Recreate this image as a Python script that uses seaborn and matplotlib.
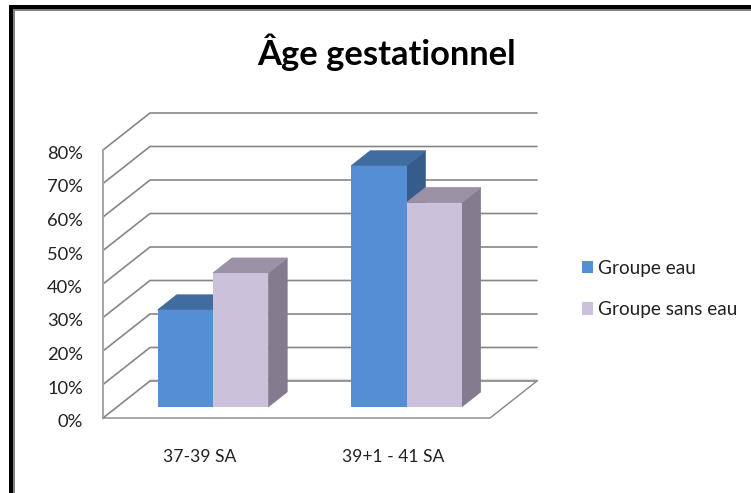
import matplotlib
matplotlib.use("Agg")
import matplotlib.pyplot as plt
import pandas as pd
import seaborn as sns
from matplotlib.lines import Line2D
from matplotlib.patches import Patch, Polygon, Rectangle
from matplotlib.transforms import IdentityTransform, ScaledTranslation

categories = ["37-39 SA", "39+1 - 41 SA"]
groups = ["Groupe eau", "Groupe sans eau"]
groupe_eau = [29, 72]
groupe_sans_eau = [40, 61]
y_ticks = [0, 10, 20, 30, 40, 50, 60, 70, 80]
y_labels = [f"{v}%" for v in y_ticks]
title = "Âge gestationnel"

face_colors = ["#558ED5", "#CCC1DA"]
top_colors = ["#406CA0", "#9B91A5"]
side_colors = ["#355C8B", "#837C8E"]
GRID = "#868686"

W, H = 751, 493
sns.set_theme(style="white")
plt.rcParams["font.family"] = ["Lato", "DejaVu Sans"]
fig = plt.figure(figsize=(W / 100, H / 100), dpi=100, facecolor="white")


def px_axes(left, right, top, bottom):
    return fig.add_axes([left / W, 1 - bottom / H, (right - left) / W, (bottom - top) / H])


# Front plane of the floor carries the axis labels; the bars sit deeper in the box.
ax = px_axes(103, 490, 150, 418)
ax.set_facecolor("none")
ax.set_xlim(-0.5, 1.5)
ax.set_ylim(0, 80)
ax.set_xticks([0, 1], categories)
ax.set_yticks(y_ticks, y_labels)
ax.tick_params(axis="x", length=0, pad=22, labelsize=12.6, colors="#222222")
ax.tick_params(axis="y", length=0, pad=14.5, labelsize=13.2, colors="#222222")
nudge = ScaledTranslation(0, -2.5 / 72 * 72 / 100, fig.dpi_scale_trans)
for lab in ax.get_yticklabels():
    lab.set_transform(lab.get_transform() + nudge)
for s in ax.spines.values():
    s.set_visible(False)

bar_ax = px_axes(116.25, 503.25, 139, 407)
df = pd.DataFrame({
    "Age": categories * 2,
    "Groupe": [groups[0]] * 2 + [groups[1]] * 2,
    "Value": groupe_eau + groupe_sans_eau,
})
sns.barplot(data=df, x="Age", y="Value", hue="Groupe", hue_order=groups,
            palette=face_colors, saturation=1, width=0.571, gap=0,
            legend=False, ax=bar_ax, linewidth=0)
bar_ax.set_xlim(-0.5, 1.5)
bar_ax.set_ylim(0, 80)
bar_ax.axis("off")
bar_ax.patch.set_alpha(0)

identity = IdentityTransform()
DEPTH = (47, 37)       # floor depth in pixels
BAR_DEPTH = (19, 15)   # bar depth in pixels

# Box walls
for v in y_ticks:
    x0, y0 = ax.transData.transform((-0.5, v))
    x1, _ = ax.transData.transform((1.5, v))
    xs = [x0, x0 + DEPTH[0], x1 + DEPTH[0]]
    ys = [y0, y0 + DEPTH[1], y0 + DEPTH[1]]
    if v == 0:
        ax.add_line(Line2D(xs[1:], [ys[1] + 1.5] * 2, color="#DDDDDD", lw=1.6,
                           transform=identity, zorder=0.5, clip_on=False))
    ax.add_line(Line2D(xs, ys, color=GRID, lw=1.2, transform=identity, zorder=1, clip_on=False))

x0, y0 = ax.transData.transform((-0.5, 0))
x1, _ = ax.transData.transform((1.5, 0))
_, ytop = ax.transData.transform((-0.5, 80))
ax.add_line(Line2D([x0, x0], [y0, ytop], color="#A6A6A6", lw=1.4, transform=identity, zorder=1, clip_on=False))
ax.add_line(Line2D([x0, x1, x1 + DEPTH[0]], [y0, y0, y0 + DEPTH[1]], color=GRID, lw=1.0,
                   transform=identity, zorder=1, clip_on=False))

# Bar depth faces, derived from the bars that seaborn drew
dx, dy = BAR_DEPTH
for i, container in enumerate(bar_ax.containers):
    for bar in container:
        bx, by = bar.get_x(), bar.get_y()
        bw, bh = bar.get_width(), bar.get_height()
        (xa, ya), (xb, yb) = bar_ax.transData.transform([(bx, by), (bx + bw, by + bh)])
        top = [(xa, yb), (xb, yb), (xb + dx, yb + dy), (xa + dx, yb + dy)]
        side = [(xb, ya), (xb, yb), (xb + dx, yb + dy), (xb + dx, ya + dy)]
        z = 2 + 2 * i
        bar_ax.add_patch(Polygon(side, closed=True, fc=side_colors[i], ec=side_colors[i], lw=0.4,
                                 transform=identity, zorder=z, clip_on=False))
        bar_ax.add_patch(Polygon(top, closed=True, fc=top_colors[i], ec=top_colors[i], lw=0.6,
                                 transform=identity, zorder=z, clip_on=False))
        bar.set_zorder(z + 1)
bar_ax.set_xlim(-0.5, 1.5)
bar_ax.set_ylim(0, 80)

# Title, legend
fig.text(386.5 / W, 1 - 52 / H, title, ha="center", va="center", fontsize=24.8,
         fontweight="bold", color="black")
handles = [Patch(fc=c, ec="none", label=g) for c, g in zip(face_colors, groups)]
fig.legend(handles=handles, loc="center left", bbox_to_anchor=(582 / W, 1 - 289 / H),
           frameon=False, fontsize=13.7, handlelength=0.58, handleheight=0.6,
           handletextpad=0.28, labelspacing=1.28, labelcolor="#222222", borderpad=0, borderaxespad=0)

# Outer frame
frame = [(9, 5, 4, H - 5, "black"), (13, 9, 2, H - 9, "#808080"),
         (9, 5, W - 9, 4, "black"), (13, 9, W - 13, 1.5, "#808080")]
for left, top_px, w, h, c in frame:
    fig.add_artist(Rectangle((left / W, 1 - (top_px + h) / H), w / W, h / H,
                             transform=fig.transFigure, fc=c, ec="none"))

fig.savefig("out.png", dpi=100)
